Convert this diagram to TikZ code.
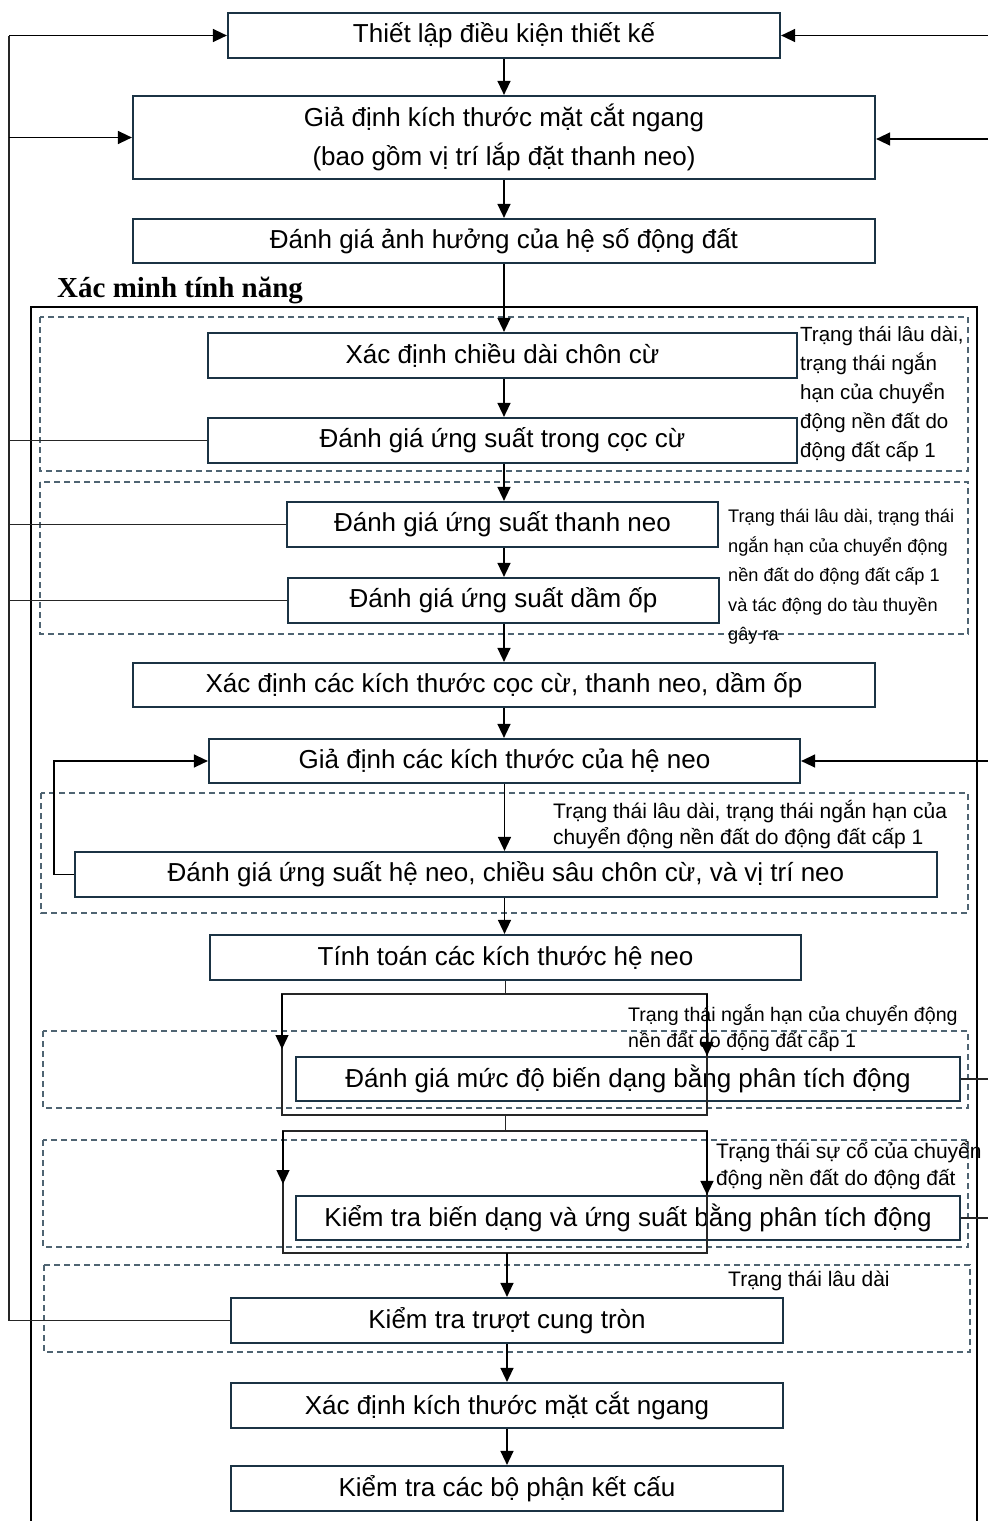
\documentclass[tikz,border=0pt]{standalone}
\usepackage{fontspec}
\setmainfont{Liberation Sans}
\newfontfamily\titlefont{Liberation Serif}
\usetikzlibrary{arrows.meta, positioning, calc}
\definecolor{boxline}{HTML}{1B3344}
\definecolor{dashline}{HTML}{4F6472}

\begin{document}
\begin{tikzpicture}[x=1pt, y=-1pt,
    box/.style={rectangle, draw=boxline, line width=2.2pt, fill=white, inner sep=0pt, align=center, font=\fontsize{26}{39}\selectfont},
    note/.style={anchor=west, align=left, inner sep=0pt, font=\fontsize{20.5}{29}\selectfont},
    arrow/.style={-{Triangle[length=14pt, width=13pt]}, line width=1.4pt},
    link/.style={line width=1.4pt, draw=black!85},
    zone/.style={draw=dashline, line width=1.3pt, dash pattern=on 6pt off 4pt},
    frame/.style={draw=black, line width=2.2pt}
]
\useasboundingbox (0,0) rectangle (988,1521);

% Zones and frame
\draw[frame] (31,1540) -- (31,307) -- (977,307) -- (977,1540);
\draw[zone] (40,317) rectangle (968,471);
\draw[zone] (40,482) rectangle (968,634);
\draw[zone] (41,793) rectangle (968,913);
\draw[zone] (43,1031) rectangle (968,1108);
\draw[zone] (43,1140) rectangle (968,1247);
\draw[zone] (44,1265) rectangle (970,1352);

% Boxes
\node[box, minimum width=552, minimum height=45] (setup) at (504,35.5) {Thiết lập điều kiện thiết kế};
\node[box, minimum width=742, minimum height=83] (assume) at (504,137.5) {Giả định kích thước mặt cắt ngang\\(bao gồm vị trí lắp đặt thanh neo)};
\node[box, minimum width=742, minimum height=44] (seismic) at (504,241) {Đánh giá ảnh hưởng của hệ số động đất};
\node[anchor=base west, inner sep=0pt, font=\titlefont\bfseries\fontsize{29}{33}\selectfont] (title) at (57,297) {Xác minh tính năng};

\node[box, minimum width=589, minimum height=45] (embed) at (502.5,355.5) {Xác định chiều dài chôn cừ};
\node[box, minimum width=589, minimum height=45] (pile) at (502.5,440.5) {Đánh giá ứng suất trong cọc cừ};
\node[box, minimum width=431, minimum height=45] (tie) at (502.5,524.5) {Đánh giá ứng suất thanh neo};
\node[box, minimum width=431, minimum height=45] (wale) at (503.5,600.5) {Đánh giá ứng suất dầm ốp};
\node[box, minimum width=742, minimum height=44] (sizes) at (504,685) {Xác định các kích thước cọc cừ, thanh neo, dầm ốp};
\node[box, minimum width=591, minimum height=44] (anchor) at (504.5,761) {Giả định các kích thước của hệ neo};
\node[box, minimum width=862, minimum height=45] (anchk) at (506,874.5) {Đánh giá ứng suất hệ neo, chiều sâu chôn cừ, và vị trí neo};
\node[box, minimum width=591, minimum height=45] (ancalc) at (505.5,957.5) {Tính toán các kích thước hệ neo};
\node[box, minimum width=664, minimum height=44] (deform) at (628,1079) {Đánh giá mức độ biến dạng bằng phân tích động};
\node[box, minimum width=664, minimum height=44] (dyncheck) at (628,1218) {Kiểm tra biến dạng và ứng suất bằng phân tích động};
\node[box, minimum width=552, minimum height=45] (circle) at (507,1320.5) {Kiểm tra trượt cung tròn};
\node[box, minimum width=552, minimum height=45] (section) at (507,1405.5) {Xác định kích thước mặt cắt ngang};
\node[box, minimum width=552, minimum height=45] (members) at (507,1488.5) {Kiểm tra các bộ phận kết cấu};

% Notes
\node[note] (n1) at (800,394) {Trạng thái lâu dài,\\trạng thái ngắn\\hạn của chuyển\\động nền đất do\\động đất cấp 1};
\node[note, font=\fontsize{18.2}{29.5}\selectfont] (n2) at (728,577) {Trạng thái lâu dài, trạng thái\\ngắn hạn của chuyển động\\nền đất do động đất cấp 1\\và tác động do tàu thuyền\\gây ra};
\node[note, font=\fontsize{21}{26}\selectfont] (n3) at (553,825) {Trạng thái lâu dài, trạng thái ngắn hạn của\\chuyển động nền đất do động đất cấp 1};
\node[note, font=\fontsize{19.6}{26}\selectfont] (n4) at (628,1028) {Trạng thái ngắn hạn của chuyển động\\nền đất do động đất cấp 1};
\node[note, font=\fontsize{21}{27}\selectfont] (n5) at (716,1166) {Trạng thái sự cố của chuyển\\động nền đất do động đất};
\node[note, font=\fontsize{21}{26}\selectfont] (n6) at (728,1281) {Trạng thái lâu dài};

% Main flow
\draw[arrow] (setup.south) -- (setup.south |- assume.north);
\draw[arrow] (assume.south) -- (assume.south |- seismic.north);
\draw[arrow] (seismic.south) -- (seismic.south |- embed.north);
\draw[arrow] (seismic.south |- embed.south) -- (seismic.south |- pile.north);
\draw[arrow] (seismic.south |- pile.south) -- (seismic.south |- tie.north);
\draw[arrow] (seismic.south |- tie.south) -- (seismic.south |- wale.north);
\draw[arrow] (seismic.south |- wale.south) -- (seismic.south |- sizes.north);
\draw[arrow] (sizes.south) -- (sizes.south |- anchor.north);
\draw[arrow] (anchor.south) -- (anchor.south |- anchk.north);
\draw[arrow] (anchor.south |- anchk.south) -- (anchor.south |- ancalc.north);
\draw[arrow] (anchk.west) -- ++(-20,0) |- (anchor.west);

% Dynamic analysis brackets
\coordinate (fa) at (282,994);
\coordinate (fb) at (707,1115);
\coordinate (fc) at (283,1131);
\coordinate (fd) at (707,1253);
\draw[link] (ancalc.south) -- (ancalc.south |- fa);
\draw[link] (fa) rectangle (fb);
\draw[arrow] (fa) -- ++(0,55);
\draw[arrow] (fa -| fb) -- (deform.north -| fb);
\draw[link] (ancalc.south |- fb) -- (ancalc.south |- fc);
\draw[link] (fc) rectangle (fd);
\draw[arrow] (fc) -- ++(0,53);
\draw[arrow] (fc -| fd) -- (dyncheck.north -| fd);
\draw[arrow] (circle.north |- fd) -- (circle.north);
\draw[arrow] (circle.south) -- (section.north);
\draw[arrow] (section.south) -- (members.north);

% Feedback on the left
\coordinate (lt) at (9,36);
\draw[link] (circle.west) -| (lt);
\draw[arrow] (lt |- setup.west) -- (setup.west);
\draw[arrow] (lt |- assume.west) -- (assume.west);
\draw[link] (pile.west) -- (pile.west -| lt);
\draw[link] (tie.west) -- (tie.west -| lt);
\draw[link] (wale.west) -- (wale.west -| lt);

% Feedback on the right
\coordinate (rt) at (988,36);
\draw[arrow] (rt |- setup.east) -- (setup.east);
\draw[arrow] (988,139) -- (assume.east |- 0,139);
\draw[arrow] (rt |- anchor.east) -- (anchor.east);
\draw[link] (deform.east) -- (deform.east -| rt);
\draw[link] (dyncheck.east) -- (dyncheck.east -| rt);

\end{tikzpicture}
\end{document}
